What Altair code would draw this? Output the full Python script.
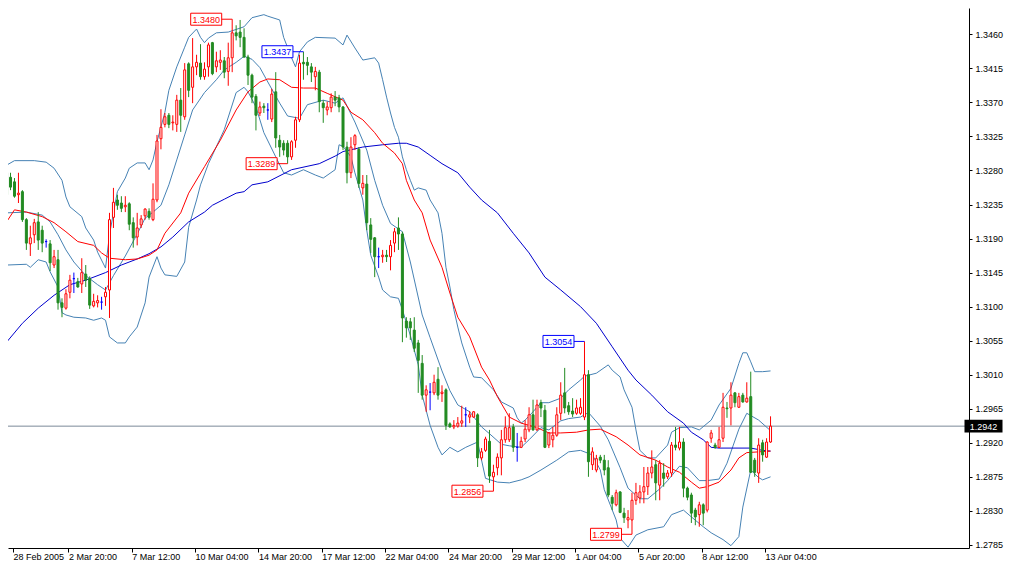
import altair as alt
import pandas as pd

FONT = "Liberation Sans"

# ---------------- candles (H4 bars, index 0 = 28 Feb 2005 00:00) ----------------
open_ = [1.3277,1.3271,1.3265,1.3248,1.3252,1.3215,1.3183,1.3195,1.3212,1.3201,
         1.3186,1.3183,1.3155,1.3162,1.3105,1.3098,1.3119,1.3137,1.3133,1.3130,
         1.3143,1.3137,1.3101,1.3105,1.3106,1.3113,1.3122,1.3218,1.3241,1.3237,
         1.3232,1.3236,1.3211,1.3192,1.3208,1.3220,1.3226,1.3215,1.3241,1.3322,
         1.3341,1.3353,1.3343,1.3341,1.3373,1.3351,1.3421,1.3390,1.3417,1.3422,
         1.3404,1.3417,1.3449,1.3417,1.3423,1.3425,1.3411,1.3429,1.3462,1.3463,
         1.3456,1.3430,1.3406,1.3378,1.3356,1.3365,1.3360,1.3348,1.3384,1.3320,
         1.3316,1.3316,1.3298,1.3320,1.3347,1.3423,1.3423,1.3417,1.3404,1.3410,
         1.3369,1.3360,1.3363,1.3377,1.3376,1.3364,1.3311,1.3277,1.3314,1.3308,
         1.3257,1.3262,1.3208,1.3191,1.3166,1.3166,1.3168,1.3166,1.3184,1.3204,
         1.3196,1.3081,1.3080,1.3069,1.3052,1.3025,1.2983,1.2987,1.2986,1.3004,
         1.2985,1.2990,1.2945,1.2941,1.2942,1.2946,1.2957,1.2954,1.2954,1.2957,
         1.2900,1.2910,1.2922,1.2875,1.2887,1.2900,1.2924,1.2924,1.2941,1.2914,
         1.2914,1.2925,1.2937,1.2957,1.2937,1.2973,1.2963,1.2917,1.2924,1.2930,
         1.2959,1.2986,1.2969,1.2962,1.2959,1.2959,1.2954,1.3010,1.2891,1.2884,
         1.2901,1.2897,1.2887,1.2848,1.2838,1.2855,1.2827,1.2818,1.2818,1.2844,
         1.2847,1.2855,1.2862,1.2880,1.2891,1.2864,1.2880,1.2875,1.2880,1.2917,
         1.2913,1.2921,1.2860,1.2851,1.2831,1.2825,1.2838,1.2831,1.2926,1.2917,
         1.2914,1.2926,1.2966,1.2966,1.2986,1.2967,1.2983,1.2974,1.2981,1.2897,
         1.2880,1.2920,1.2901,1.2921]
high = [1.3278,1.3277,1.3270,1.3277,1.3254,1.3217,1.3207,1.3216,1.3225,1.3207,
        1.3189,1.3188,1.3175,1.3175,1.3111,1.3123,1.3142,1.3145,1.3138,1.3164,
        1.3155,1.3140,1.3117,1.3115,1.3113,1.3126,1.3224,1.3257,1.3248,1.3246,
        1.3246,1.3238,1.3218,1.3224,1.3221,1.3230,1.3230,1.3263,1.3327,1.3361,
        1.3356,1.3356,1.3353,1.3380,1.3389,1.3422,1.3423,1.3455,1.3433,1.3447,
        1.3423,1.3449,1.3450,1.3437,1.3439,1.3430,1.3449,1.3480,1.3472,1.3479,
        1.3468,1.3433,1.3408,1.3381,1.3371,1.3369,1.3369,1.3388,1.3410,1.3327,
        1.3320,1.3320,1.3320,1.3351,1.3433,1.3437,1.3430,1.3422,1.3417,1.3413,
        1.3373,1.3371,1.3382,1.3385,1.3380,1.3365,1.3318,1.3324,1.3328,1.3311,
        1.3274,1.3274,1.3217,1.3192,1.3178,1.3175,1.3175,1.3188,1.3204,1.3218,
        1.3199,1.3086,1.3085,1.3086,1.3056,1.3036,1.2996,1.2999,1.3010,1.3020,
        1.2996,1.2992,1.2947,1.2950,1.2954,1.2969,1.2967,1.2962,1.2962,1.2959,
        1.2913,1.2928,1.2937,1.2891,1.2906,1.2937,1.2955,1.2959,1.2945,1.2933,
        1.2928,1.2950,1.2967,1.2977,1.2977,1.2977,1.2970,1.2934,1.2941,1.2967,
        1.3000,1.3019,1.2974,1.2979,1.2977,1.2979,1.3054,1.3016,1.2914,1.2904,
        1.2904,1.2904,1.2897,1.2851,1.2858,1.2856,1.2834,1.2831,1.2854,1.2867,
        1.2864,1.2888,1.2888,1.2910,1.2897,1.2897,1.2893,1.2884,1.2921,1.2941,
        1.2941,1.2926,1.2862,1.2854,1.2834,1.2842,1.2840,1.2922,1.2937,1.2920,
        1.2941,1.2986,1.2974,1.3000,1.2987,1.2986,1.2986,1.3000,1.3014,1.2900,
        1.2926,1.2924,1.2926,1.2955]
low = [1.3244,1.3254,1.3244,1.3237,1.3212,1.3175,1.3167,1.3184,1.3175,1.3172,
       1.3178,1.3147,1.3151,1.3096,1.3086,1.3096,1.3111,1.3118,1.3125,1.3118,
       1.3126,1.3097,1.3099,1.3099,1.3096,1.3101,1.3085,1.3204,1.3228,1.3225,
       1.3225,1.3201,1.3178,1.3181,1.3204,1.3215,1.3215,1.3213,1.3238,1.3308,
       1.3337,1.3336,1.3333,1.3331,1.3331,1.3347,1.3377,1.3369,1.3406,1.3400,
       1.3400,1.3404,1.3406,1.3410,1.3413,1.3402,1.3392,1.3410,1.3452,1.3443,
       1.3429,1.3393,1.3369,1.3333,1.3352,1.3356,1.3347,1.3344,1.3310,1.3298,
       1.3300,1.3289,1.3294,1.3310,1.3344,1.3400,1.3406,1.3397,1.3386,1.3357,
       1.3343,1.3353,1.3357,1.3365,1.3357,1.3307,1.3263,1.3270,1.3307,1.3257,
       1.3248,1.3201,1.3171,1.3139,1.3151,1.3158,1.3159,1.3148,1.3172,1.3175,
       1.3053,1.3059,1.3056,1.3040,1.2986,1.2977,1.2961,1.2963,1.2983,1.2977,
       1.2974,1.2937,1.2940,1.2938,1.2940,1.2941,1.2941,1.2946,1.2953,1.2888,
       1.2897,1.2908,1.2867,1.2856,1.2877,1.2877,1.2920,1.2921,1.2908,1.2895,
       1.2913,1.2921,1.2934,1.2936,1.2936,1.2954,1.2913,1.2913,1.2914,1.2928,
       1.2950,1.2959,1.2957,1.2954,1.2957,1.2957,1.2950,1.2875,1.2884,1.2881,
       1.2893,1.2877,1.2848,1.2831,1.2836,1.2827,1.2814,1.2807,1.2799,1.2838,
       1.2840,1.2840,1.2851,1.2873,1.2844,1.2844,1.2862,1.2872,1.2875,1.2910,
       1.2910,1.2848,1.2844,1.2814,1.2811,1.2809,1.2811,1.2828,1.2920,1.2912,
       1.2913,1.2921,1.2953,1.2943,1.2967,1.2966,1.2973,1.2973,1.2880,1.2875,
       1.2867,1.2895,1.2900,1.2920]
close = [1.3248,1.3258,1.3246,1.3250,1.3215,1.3184,1.3191,1.3211,1.3188,1.3184,
         1.3186,1.3158,1.3166,1.3105,1.3099,1.3117,1.3135,1.3137,1.3126,1.3145,
         1.3135,1.3102,1.3107,1.3108,1.3106,1.3119,1.3215,1.3238,1.3234,1.3230,
         1.3234,1.3209,1.3191,1.3204,1.3216,1.3229,1.3218,1.3242,1.3319,1.3337,
         1.3351,1.3341,1.3344,1.3373,1.3353,1.3413,1.3386,1.3417,1.3423,1.3404,
         1.3414,1.3446,1.3408,1.3425,1.3426,1.3410,1.3429,1.3462,1.3458,1.3456,
         1.3430,1.3406,1.3377,1.3353,1.3364,1.3363,1.3360,1.3381,1.3323,1.3311,
         1.3307,1.3298,1.3318,1.3347,1.3422,1.3421,1.3419,1.3410,1.3411,1.3371,
         1.3363,1.3364,1.3377,1.3373,1.3364,1.3311,1.3277,1.3311,1.3326,1.3263,
         1.3263,1.3211,1.3189,1.3166,1.3166,1.3168,1.3166,1.3181,1.3199,1.3196,
         1.3085,1.3072,1.3072,1.3045,1.3029,1.2983,1.2990,1.2987,1.3000,1.2983,
         1.2987,1.2943,1.2941,1.2943,1.2946,1.2949,1.2957,1.2957,1.2961,1.2900,
         1.2908,1.2925,1.2876,1.2881,1.2901,1.2924,1.2940,1.2940,1.2914,1.2914,
         1.2922,1.2938,1.2957,1.2937,1.2970,1.2966,1.2914,1.2933,1.2930,1.2957,
         1.2983,1.2966,1.2961,1.2958,1.2966,1.2967,1.3010,1.2895,1.2908,1.2899,
         1.2897,1.2884,1.2851,1.2840,1.2854,1.2828,1.2821,1.2821,1.2844,1.2854,
         1.2855,1.2862,1.2880,1.2888,1.2867,1.2893,1.2873,1.2880,1.2917,1.2914,
         1.2921,1.2860,1.2848,1.2827,1.2822,1.2838,1.2827,1.2921,1.2933,1.2914,
         1.2924,1.2967,1.2965,1.2983,1.2973,1.2981,1.2974,1.2979,1.2881,1.2881,
         1.2917,1.2904,1.2921,1.2942]

# ---------------- indicator lines (bar index, price) ----------------
bb_upper_bar = [0,2,7,10,12,14,15,16,19,20,22,23,25,26,27,28,30,31,33,35,36,37,38,40,41,43,45,46,48,49,
                50,51,53,56,60,62,65,66,69,70,72,73,74,76,78,83,85,86,88,90,93,94,95,96,97,98,99,100,101,102,
                103,104,106,107,109,110,111,112,113,114,115,117,118,120,123,125,128,129,130,131,133,135,137,140,142,145,146,149,152,153,
                155,156,158,159,160,162,164,167,168,170,173,175,178,180,183,185,186,187,188,189,191,193]
bb_upper_val = [1.3287,1.3293,1.3293,1.3291,1.3283,1.3267,1.3245,1.3232,1.3219,1.3204,1.3188,1.3172,1.3151,1.3195,1.3224,1.3252,1.3270,1.3283,1.3290,1.3290,
                1.3281,1.3294,1.3318,1.3357,1.3386,1.3417,1.3443,1.3456,1.3467,1.3456,1.3449,1.3455,1.3462,1.3463,1.3470,1.3482,1.3486,1.3484,1.3479,1.3456,
                1.3429,1.3417,1.3437,1.3450,1.3456,1.3455,1.3446,1.3459,1.3442,1.3426,1.3429,1.3422,1.3400,1.3377,1.3356,1.3337,1.3324,1.3298,1.3281,1.3267,
                1.3254,1.3257,1.3254,1.3241,1.3224,1.3197,1.3152,1.3126,1.3096,1.3073,1.3052,1.3020,1.3007,1.3006,1.2990,1.2974,1.2966,1.2953,1.2946,1.2950,
                1.2961,1.2973,1.2973,1.2979,1.2990,1.3003,1.3008,1.3012,1.3023,1.3016,1.3007,1.2990,1.2967,1.2937,1.2910,1.2900,1.2900,1.2917,1.2934,1.2940,
                1.2941,1.2937,1.2950,1.2970,1.2992,1.3025,1.3039,1.3039,1.3027,1.3014,1.3014,1.3015]

bb_mid_bar = [0,5,9,11,13,15,17,20,23,25,27,30,33,35,37,39,41,43,45,47,50,53,55,58,60,62,64,66,69,71,
              74,76,80,83,85,88,91,93,95,97,100,102,105,107,110,112,114,117,120,122,125,127,130,132,135,137,140,142,145,147,
              150,152,155,157,160,162,165,167,170,172,175,177,180,182,185,187,190,193]
bb_mid_val = [1.3224,1.3225,1.3221,1.3212,1.3195,1.3175,1.3159,1.3141,1.3129,1.3122,1.3141,1.3167,1.3196,1.3217,1.3225,1.3234,1.3261,1.3294,1.3327,1.3360,
              1.3383,1.3400,1.3413,1.3423,1.3431,1.3427,1.3416,1.3397,1.3369,1.3352,1.3349,1.3367,1.3373,1.3369,1.3376,1.3344,1.3307,1.3267,1.3234,1.3210,
              1.3199,1.3159,1.3089,1.3059,1.3015,1.2989,1.2970,1.2961,1.2941,1.2932,1.2918,1.2916,1.2914,1.2924,1.2940,1.2937,1.2949,1.2952,1.2954,1.2960,
              1.2942,1.2924,1.2887,1.2860,1.2846,1.2846,1.2859,1.2870,1.2889,1.2887,1.2870,1.2870,1.2872,1.2893,1.2938,1.2959,1.2950,1.2936]

bb_lower_bar = [0,5,6,8,10,11,13,14,15,17,20,22,24,25,26,28,30,31,33,35,36,38,39,40,43,45,46,48,49,51,
                55,58,60,61,63,65,68,70,72,75,78,80,83,84,85,87,88,90,91,92,94,95,97,99,100,102,104,105,107,109,
                110,112,114,116,119,121,124,127,130,132,135,139,142,145,148,150,151,154,155,157,159,162,166,168,171,173,176,178,181,183,
                185,186,188,190,191,193]
bb_lower_val = [1.3155,1.3156,1.3152,1.3162,1.3159,1.3146,1.3126,1.3092,1.3089,1.3086,1.3085,1.3082,1.3085,1.3082,1.3060,1.3052,1.3052,1.3060,1.3073,1.3105,
                1.3139,1.3166,1.3151,1.3142,1.3140,1.3159,1.3205,1.3241,1.3261,1.3289,1.3334,1.3383,1.3390,1.3384,1.3364,1.3330,1.3298,1.3277,1.3274,1.3281,
                1.3274,1.3270,1.3281,1.3314,1.3312,1.3298,1.3277,1.3241,1.3201,1.3168,1.3139,1.3122,1.3113,1.3111,1.3096,1.3062,1.3023,1.2983,1.2943,1.2914,
                1.2904,1.2914,1.2908,1.2914,1.2921,1.2873,1.2868,1.2867,1.2871,1.2875,1.2884,1.2897,1.2908,1.2910,1.2904,1.2884,1.2858,1.2818,1.2794,1.2782,
                1.2798,1.2805,1.2809,1.2825,1.2831,1.2822,1.2809,1.2801,1.2792,1.2784,1.2796,1.2835,1.2884,1.2874,1.2871,1.2875]

ma_red_bar = [0,2,5,9,12,15,18,22,24,26,30,33,36,38,40,44,46,50,54,58,61,64,66,69,72,75,78,81,85,87,
              90,93,95,98,100,101,103,105,107,110,112,114,117,120,122,124,127,130,134,137,140,144,147,150,154,157,160,164,167,170,
              173,175,177,180,183,185,187,190,193]
ma_red_val = [1.3212,1.3228,1.3225,1.3219,1.3211,1.3199,1.3186,1.3181,1.3171,1.3164,1.3162,1.3163,1.3168,1.3175,1.3197,1.3224,1.3250,1.3285,1.3320,1.3360,
              1.3384,1.3397,1.3401,1.3400,1.3390,1.3389,1.3389,1.3382,1.3373,1.3357,1.3347,1.3330,1.3316,1.3303,1.3289,1.3267,1.3241,1.3224,1.3188,1.3152,
              1.3118,1.3086,1.3060,1.3020,1.3003,1.2981,1.2954,1.2946,1.2940,1.2933,1.2933,1.2934,1.2937,1.2938,1.2928,1.2917,1.2904,1.2897,1.2888,1.2881,
              1.2868,1.2860,1.2862,1.2868,1.2884,1.2900,1.2907,1.2908,1.2909]

ma_blue_bar = [0,4,8,12,16,20,25,29,33,36,39,42,46,50,52,55,58,60,62,66,72,79,83,85,90,95,99,101,104,107,
               110,114,117,120,124,128,132,136,140,145,149,153,157,159,163,167,171,173,176,178,180,188,191,193]
ma_blue_val = [1.3053,1.3078,1.3098,1.3115,1.3129,1.3135,1.3145,1.3155,1.3163,1.3170,1.3179,1.3192,1.3212,1.3225,1.3234,1.3242,1.3250,1.3252,1.3261,1.3265,
               1.3281,1.3289,1.3299,1.3305,1.3311,1.3314,1.3316,1.3316,1.3311,1.3300,1.3289,1.3277,1.3258,1.3241,1.3224,1.3197,1.3171,1.3139,1.3122,1.3100,
               1.3078,1.3047,1.3016,1.3003,1.2983,1.2961,1.2946,1.2934,1.2924,1.2914,1.2913,1.2913,1.2910,1.2909]

# ---------------- swing labels ----------------
marker_bar = [57, 75, 71, 123, 146, 158]
marker_price = [1.3480, 1.3437, 1.3289, 1.2856, 1.3054, 1.2799]
marker_group = ["A", "B", "A", "A", "B", "A"]

# ---------------- axes ----------------
x_tick_labels = ["28 Feb 2005", "2 Mar 20:00", "7 Mar 12:00", "10 Mar 04:00", "14 Mar 20:00",
                 "17 Mar 12:00", "22 Mar 04:00", "24 Mar 20:00", "29 Mar 12:00", "1 Apr 04:00",
                 "5 Apr 20:00", "8 Apr 12:00", "13 Apr 04:00"]
BARS_PER_LABEL = 16
y_tick_values = [1.2785, 1.2830, 1.2875, 1.2920, 1.2965, 1.3010, 1.3055, 1.3100, 1.3145,
                 1.3190, 1.3235, 1.3280, 1.3325, 1.3370, 1.3415, 1.3460, 1.3505]

# ---------------- build ----------------
# the page keeps an 8px margin, so the view starts 8px in: domains are set so that
# every bar keeps the pixel column it has in the original terminal window
X_MIN, X_MAX = 1.625, 241.875
Y_MIN, Y_MAX = 1.27809, 1.349482
PLOT_W, PLOT_H = 961, 540
xs = alt.Scale(domain=[X_MIN, X_MAX], nice=False, zero=False)
ys = alt.Scale(domain=[Y_MIN, Y_MAX], nice=False, zero=False)

df = pd.DataFrame({"bar": list(range(len(open_))), "open": open_, "high": high,
                   "low": low, "close": close})
df["kind"] = ["up" if c > o else ("down" if c < o else "doji") for o, c in zip(open_, close)]

label_arr = "[" + ",".join("'" + s + "'" for s in x_tick_labels) + "]"
x_values = [X_MIN] + [BARS_PER_LABEL * k - 0.375 for k in range(1, len(x_tick_labels))]
x_axis = alt.Axis(
    values=x_values,
    labelExpr=label_arr + "[round((datum.value + 0.375) / " + str(BARS_PER_LABEL) + ")]",
    labelAlign="left", labelBaseline="top", labelPadding=0, tickSize=4,
    tickColor="black", domainColor="black", labelColor="black",
    labelFont=FONT, labelFontSize=9, grid=False, labelFlush=False, labelOverlap=False,
    title=None, domainWidth=1, tickWidth=1)
y_axis = alt.Axis(
    orient="right", values=y_tick_values, format=".4f", tickSize=3, labelPadding=3,
    tickColor="black", domainColor="black", labelColor="black",
    labelFont=FONT, labelFontSize=9, grid=False, labelOverlap=False, title=None,
    domainWidth=1, tickWidth=1)

BB_COLOR = "#4682b4"
kind_stroke = alt.Scale(domain=["up", "down", "doji"], range=["#ff0000", "#228b22", "#0000ff"])
kind_fill = alt.Scale(domain=["up", "down", "doji"], range=["#ffffff", "#228b22", "#0000ff"])
group_color = {"A": "#ff0000", "B": "#0000ff"}


def X(field="bar"):
    return alt.X(field + ":Q", scale=xs, axis=x_axis)


def Y(field="price"):
    return alt.Y(field + ":Q", scale=ys, axis=y_axis)


def line_layer(bars, vals, color):
    d = pd.DataFrame({"bar": bars, "price": vals})
    return alt.Chart(d).mark_line(color=color, strokeWidth=1, clip=True).encode(x=X(), y=Y())


wicks = alt.Chart(df).mark_rule(strokeWidth=1).encode(
    x=X(), y=Y("low"), y2="high:Q",
    stroke=alt.Stroke("kind:N", scale=kind_stroke, legend=None))

price_line = alt.Chart(pd.DataFrame({"price": [close[-1]]})).mark_rule(
    color="#7b8a99", strokeWidth=1).encode(y=Y())

bodies = alt.Chart(df).mark_bar(size=2, strokeWidth=1).encode(
    x=X(), y=Y("open"), y2="close:Q",
    fill=alt.Fill("kind:N", scale=kind_fill, legend=None),
    stroke=alt.Stroke("kind:N", scale=kind_stroke, legend=None))

mk = pd.DataFrame({"bar": marker_bar, "price": marker_price, "grp": marker_group})
mk["label"] = [f"{p:.4f}" for p in marker_price]

BOX_OFFSET = -26
marker_layers = []
for g, col in group_color.items():
    sub = mk[mk["grp"] == g]
    conn = alt.Chart(sub).mark_rule(color=col, strokeWidth=1, x2Offset=-11).encode(
        x=X(), x2="bar:Q", y=Y())
    box = alt.Chart(sub).mark_point(
        shape="M-1,-0.387H1V0.387H-1Z", size=961, filled=True, fill="white",
        stroke=col, strokeWidth=1, opacity=1, fillOpacity=1, strokeOpacity=1,
        xOffset=BOX_OFFSET).encode(x=X(), y=Y())
    txt = alt.Chart(sub).mark_text(
        color=col, font=FONT, fontSize=9, xOffset=BOX_OFFSET, align="center",
        baseline="middle", dy=0.5).encode(x=X(), y=Y(), text="label:N")
    marker_layers += [conn, box, txt]

tag_df = pd.DataFrame({"bar": [X_MAX], "price": [close[-1]], "label": [f"{close[-1]:.4f}"]})
tag_box = alt.Chart(tag_df).mark_point(
    shape="M-1,-0.3H1V0.3H-1Z", size=1296, filled=True, fill="black", stroke="black",
    opacity=1, xOffset=19.5).encode(x=X(), y=Y())
tag_txt = alt.Chart(tag_df).mark_text(
    color="white", font=FONT, fontSize=9, xOffset=19.5, align="center",
    baseline="middle", dy=0.5).encode(x=X(), y=Y(), text="label:N")

chart = alt.layer(
    price_line,
    line_layer(bb_upper_bar, bb_upper_val, BB_COLOR),
    line_layer(bb_mid_bar, bb_mid_val, BB_COLOR),
    line_layer(bb_lower_bar, bb_lower_val, BB_COLOR),
    line_layer(ma_blue_bar, ma_blue_val, "#0000cd"),
    line_layer(ma_red_bar, ma_red_val, "#ff0000"),
    wicks,
    bodies,
    *marker_layers,
    tag_box,
    tag_txt,
).properties(
    width=PLOT_W, height=PLOT_H,
    autosize=alt.AutoSizeParams(type="none"),
    padding={"left": 0, "top": 0, "right": 38, "bottom": 12},
    background="white",
).configure_view(strokeWidth=0)

chart.save("out.html", embed_options={"renderer": "svg", "actions": False})
